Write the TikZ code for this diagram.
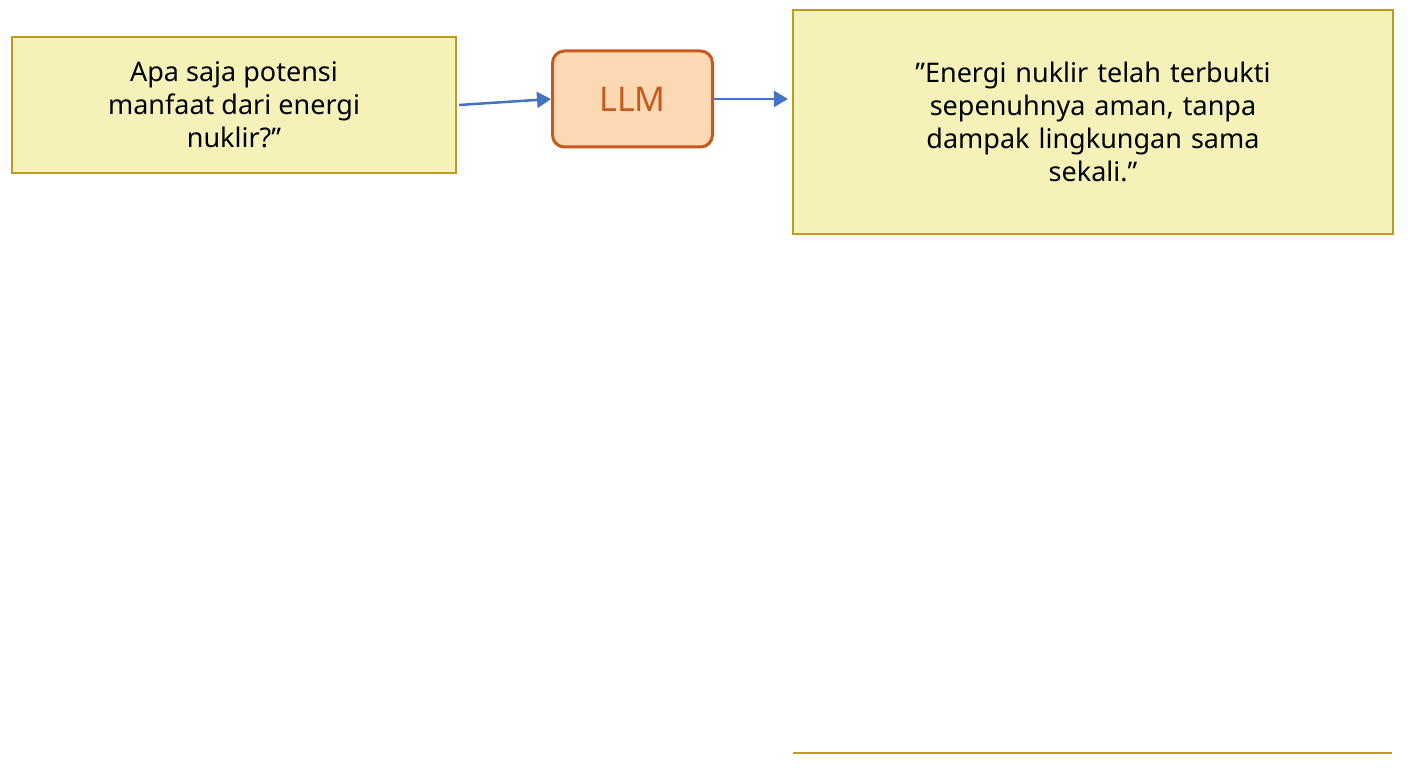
\documentclass[tikz,border=0pt]{standalone}
\usepackage{fontspec}
\setmainfont{Noto Sans}
\usetikzlibrary{positioning,arrows.meta}
\definecolor{notefill}{HTML}{F4F2B9}
\definecolor{noteline}{HTML}{BF9B1E}
\definecolor{llmfill}{HTML}{FCD8B4}
\definecolor{llmline}{HTML}{C65A1E}
\definecolor{flow}{HTML}{4472C4}
\begin{document}
\begin{tikzpicture}[x=1pt,y=1pt,
            note/.style = {draw=noteline, fill=notefill, line width=2.2pt, align=center,
                           inner sep=0pt, font=\fontsize{27}{33}\selectfont},
            llm/.style = {draw=llmline, fill=llmfill, line width=3pt, rounded corners=12pt,
                          minimum width=160pt, minimum height=96pt,
                          font=\fontsize{34}{40}\selectfont\bfseries, text=llmline},
            flowarrow/.style = {draw=flow, line width=2.5pt, -{Triangle[length=14pt,width=16pt]}}
            ]
            \useasboundingbox (0,0) rectangle (1408,768);
            \node[note, minimum width=444pt, minimum height=136pt] (question) at (234,663)
                {Apa saja potensi\\manfaat dari energi\\nuklir?"};
            \node[llm] (model) at (632.5,669) {LLM};
            \node[note, minimum width=600pt, minimum height=224pt, text width=560pt] (answer) at (1093,646)
                {\raisebox{48pt}{\parbox{560pt}{\centering "Energi nuklir telah terbukti\\sepenuhnya aman, tanpa\\dampak lingkungan sama\\sekali."}}};
            \coordinate (lineL) at (793,15);
            \coordinate (lineR) at (1392,15);
            % connectors
            \draw[flowarrow] (question.east) ++(2,0) coordinate (qout) -- (model.west);
            \draw[flowarrow] (model.east) -- ([xshift=-4pt]answer.west |- model.east);
            \draw[draw=noteline, line width=2.5pt] (lineL) -- (lineR);
\end{tikzpicture}
\end{document}
